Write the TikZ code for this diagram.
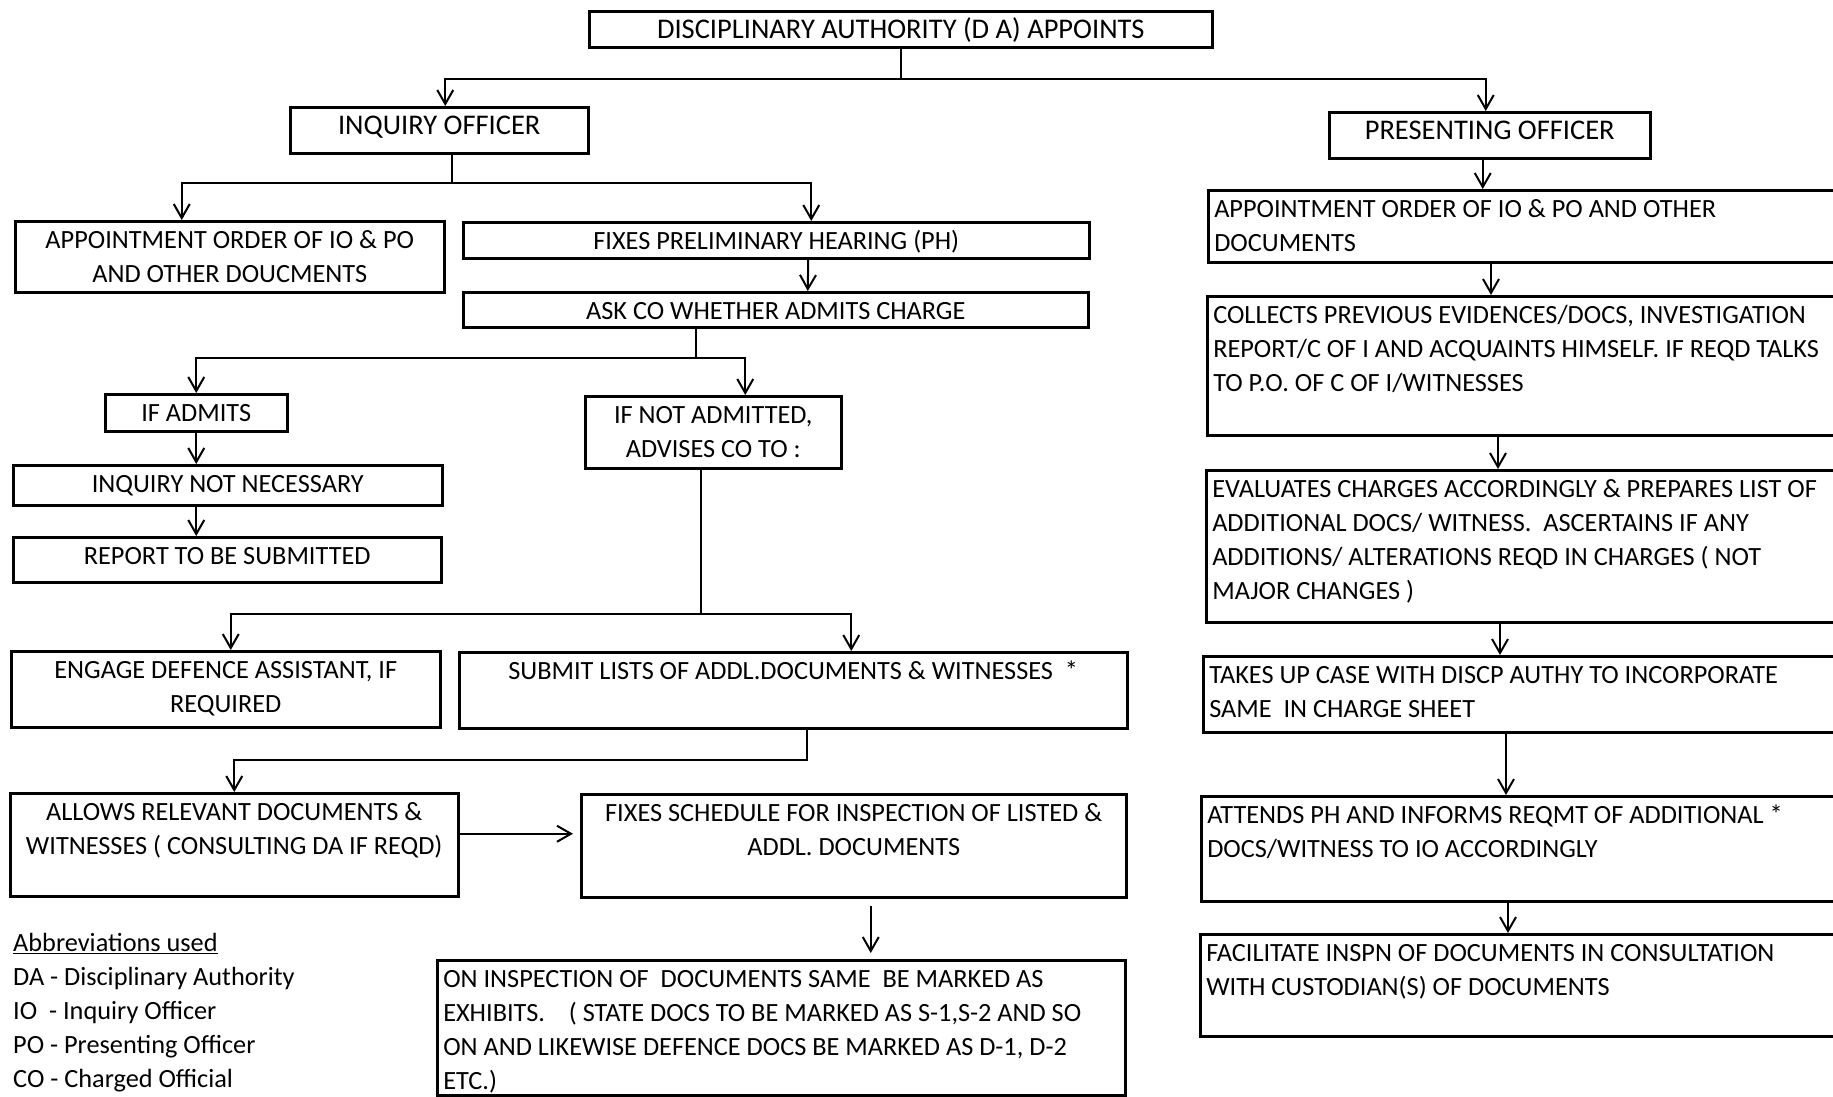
\documentclass[tikz,border=0pt]{standalone}
\usepackage{fontspec}
\setmainfont{Carlito}
\usetikzlibrary{arrows.meta}

% larger type of the three top boxes
\newcommand{\headfont}{\fontsize{28.5}{34}\selectfont}

% box with its top left corner at (x,y): name, x, y, width, height, c/l, text
\newcommand{\flowbox}[7]{%
  \node[blk] (#1) at (#2,#3)
    {\parbox[t][\dimexpr#5pt-6pt\relax][t]{\dimexpr#4pt-12pt\relax}{%
      \if c#6\centering\fi
      \begin{tabular}[t]{@{}#6@{}}#7\end{tabular}}};}

\begin{document}
\begin{tikzpicture}[x=1pt, y=-1pt,
    font=\fontsize{26.3}{34}\selectfont,
    blk/.style={draw, line width=2.5pt, anchor=north west, inner xsep=6pt, inner ysep=3pt},
    arr/.style={line width=2pt, -{Straight Barb[length=14pt,width=16pt]}}]
  \useasboundingbox (0,0) rectangle (1833,1096);

  % Top level
  \flowbox{da}{588}{10}{623}{36}{c}{\headfont DISCIPLINARY AUTHORITY (D A) APPOINTS}
  \flowbox{io}{289}{106}{298}{46}{c}{\headfont INQUIRY OFFICER}
  \flowbox{po}{1328}{111}{321}{46}{c}{\headfont PRESENTING OFFICER}

  % Inquiry officer side
  \flowbox{apptL}{14}{220}{429}{71}{c}{APPOINTMENT ORDER OF IO \& PO\\AND OTHER DOUCMENTS}
  \flowbox{fixPH}{462}{221}{626}{36}{c}{FIXES PRELIMINARY HEARING (PH)}
  \flowbox{askCO}{462}{291}{625}{35}{c}{ASK CO WHETHER ADMITS CHARGE}
  \flowbox{ifAdm}{104}{393}{182}{37}{c}{IF ADMITS}
  \flowbox{ifNot}{584}{395}{256}{72}{c}{IF NOT ADMITTED,\\ADVISES CO TO :}
  \flowbox{notNec}{12}{464}{429}{40}{c}{INQUIRY NOT NECESSARY}
  \flowbox{report}{12}{536}{428}{45}{c}{REPORT TO BE SUBMITTED}
  \flowbox{engage}{10}{650}{429}{76}{c}{ENGAGE DEFENCE ASSISTANT, IF\\REQUIRED}
  \flowbox{submit}{458}{651}{668}{76}{c}{SUBMIT LISTS OF ADDL.DOCUMENTS \& WITNESSES\ \ *}
  \flowbox{allows}{9}{792}{448}{103}{c}{ALLOWS RELEVANT DOCUMENTS \&\\WITNESSES ( CONSULTING DA IF REQD)}
  \flowbox{fixSch}{580}{793}{545}{103}{c}{FIXES SCHEDULE FOR INSPECTION OF LISTED \&\\ADDL. DOCUMENTS}
  \flowbox{inspect}{436}{959}{688}{135}{l}{ON INSPECTION OF\ \ DOCUMENTS SAME\ \ BE MARKED AS\\
    EXHIBITS.\ \ \ \ ( STATE DOCS TO BE MARKED AS S-1,S-2 AND SO\\
    ON AND LIKEWISE DEFENCE DOCS BE MARKED AS D-1, D-2\\ETC.)}

  % Presenting officer side
  \flowbox{apptR}{1207}{189}{700}{72}{l}{APPOINTMENT ORDER OF IO \& PO AND OTHER\\DOCUMENTS}
  \flowbox{collect}{1206}{295}{700}{139}{l}{COLLECTS PREVIOUS EVIDENCES/DOCS, INVESTIGATION\\
    REPORT/C OF I AND ACQUAINTS HIMSELF. IF REQD TALKS\\TO P.O. OF C OF I/WITNESSES}
  \flowbox{eval}{1205}{469}{700}{152}{l}{EVALUATES CHARGES ACCORDINGLY \& PREPARES LIST OF\\
    ADDITIONAL DOCS/ WITNESS.\ \ ASCERTAINS IF ANY\\
    ADDITIONS/ ALTERATIONS REQD IN CHARGES ( NOT\\MAJOR CHANGES )}
  \flowbox{takes}{1202}{655}{700}{76}{l}{TAKES UP CASE WITH DISCP AUTHY TO INCORPORATE\\SAME\ \ IN CHARGE SHEET}
  \flowbox{attends}{1200}{795}{700}{105}{l}{ATTENDS PH AND INFORMS REQMT OF ADDITIONAL *\\DOCS/WITNESS TO IO ACCORDINGLY}
  \flowbox{facil}{1199}{933}{700}{102}{l}{FACILITATE INSPN OF DOCUMENTS IN CONSULTATION\\WITH CUSTODIAN(S) OF DOCUMENTS}

  % Abbreviations
  \node[anchor=north west, inner sep=0pt, align=left] (abbr) at (13,933)
    {\underline{Abbreviations used}\\DA - Disciplinary Authority\\IO\ \ - Inquiry Officer\\
     PO - Presenting Officer\\CO - Charged Official};

  % Connectors
  \draw[arr] (da.south) -- ++(0,30) -| ([xshift=6pt]io.north);
  \draw[arr] (da.south) -- ++(0,30) -| ([xshift=-4pt]po.north);
  \draw[arr] ([xshift=13pt]io.south) -- ++(0,28) -| ([xshift=-48pt]apptL.north);
  \draw[arr] ([xshift=13pt]io.south) -- ++(0,28) -| ([xshift=35pt]fixPH.north);
  \draw[arr] ([xshift=32pt]fixPH.south) -- ([xshift=32pt]askCO.north);
  \draw[arr] ([xshift=-80pt]askCO.south) -- ++(0,29) -| (ifAdm.north);
  \draw[arr] ([xshift=-80pt]askCO.south) -- ++(0,29) -| ([xshift=32pt]ifNot.north);
  \draw[arr] (ifAdm.south) -- (ifAdm.south |- notNec.north);
  \draw[arr] (notNec.south -| ifAdm.south) -- (report.north -| ifAdm.south);
  \draw[arr] ([xshift=-12pt]ifNot.south) -- ++(0,144) -| ([xshift=5pt]engage.north);
  \draw[arr] ([xshift=-12pt]ifNot.south) -- ++(0,144) -| ([xshift=58pt]submit.north);
  \draw[arr] ([xshift=14pt]submit.south) -- ++(0,30) -| (allows.north);
  \draw[arr, shorten >=7pt] ([yshift=11pt]allows.east) -- ([yshift=11pt]allows.east -| fixSch.west);
  \draw[arr, shorten <=7pt, shorten >=6pt] ([xshift=17pt]fixSch.south) -- ([xshift=17pt]fixSch.south |- inspect.north);

  \draw[arr] ([xshift=-7pt]po.south) -- ([xshift=-7pt]po.south |- apptR.north);
  \draw[arr] ([xshift=284pt]apptR.south west) -- ([xshift=284pt]apptR.south west |- collect.north);
  \draw[arr] ([xshift=292pt]collect.south west) -- ([xshift=292pt]collect.south west |- eval.north);
  \draw[arr] ([xshift=295pt]eval.south west) -- ([xshift=295pt]eval.south west |- takes.north);
  \draw[arr] ([xshift=304pt]takes.south west) -- ([xshift=304pt]takes.south west |- attends.north);
  \draw[arr] ([xshift=308pt]attends.south west) -- ([xshift=308pt]attends.south west |- facil.north);
\end{tikzpicture}
\end{document}
